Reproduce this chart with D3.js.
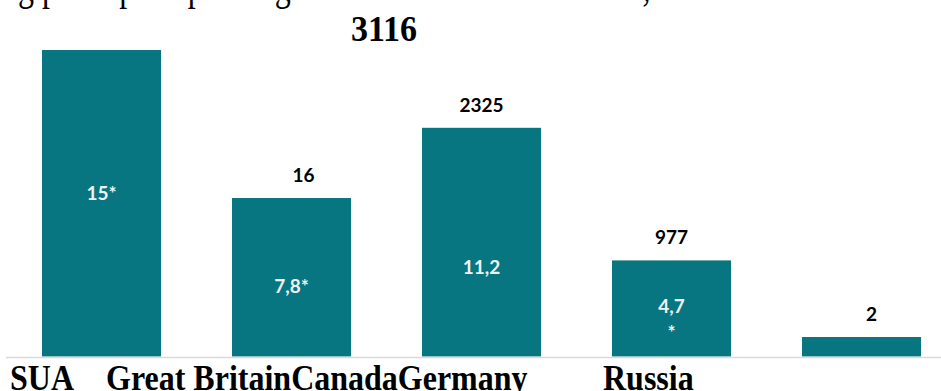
<!DOCTYPE html>
<html>
<head>
<meta charset="utf-8">
<script src="https://cdn.jsdelivr.net/npm/d3@7"></script>
<style>
  html, body { margin: 0; padding: 0; background: #fff; overflow: hidden; }
  svg { display: block; }
</style>
</head>
<body>
<svg id="chart" width="941" height="391"></svg>
<script>
// ---- data ----
const categories = ["SUA", "Great Britain", "Canada", "Germany", "Russia"];
const spending = [3116, 1611, 2325, 977, 198];
const topLabels = ["3116", "16", "2325", "977", "2"];
const innerLabels = [["15*"], ["7,8*"], ["11,2"], ["4,7", "*"], []];
const captionText = "Healthcare spending per capita spending in the considered countries, USD";

// ---- layout / style ----
const W = 941, H = 391;
const baseY = 356.5, topY = 50;
const barColor = "#077680";
const topLabelNudge = [0, 12, 0, 0, 10];

const svg = d3.select("#chart");

const x = d3.scaleBand()
  .domain(categories)
  .range([6.5, 956.5])
  .paddingInner(0.3737)
  .paddingOuter(0.1868);

const y = d3.scaleLinear()
  .domain([0, d3.max(spending)])
  .range([baseY, topY]);

// cut-off caption at the top
svg.append("text")
  .attr("transform", "translate(-228,0) scale(1,1.35)")
  .attr("font-family", "'Liberation Serif', 'Times New Roman', serif")
  .attr("font-size", 32)
  .attr("fill", "#000")
  .text(captionText);

// bars
svg.selectAll("rect.bar")
  .data(categories)
  .join("rect")
  .attr("class", "bar")
  .attr("x", d => x(d))
  .attr("y", (d, i) => y(spending[i]))
  .attr("width", x.bandwidth())
  .attr("height", (d, i) => baseY - y(spending[i]))
  .attr("fill", barColor);

// axis line
svg.append("line")
  .attr("x1", 6).attr("x2", W)
  .attr("y1", baseY + 1).attr("y2", baseY + 1)
  .attr("stroke", "#d9d9d9")
  .attr("stroke-width", 1.5);

// top value labels (first one is the big serif title)
svg.append("text")
  .attr("transform", "translate(384,41) scale(1,1.08)")
  .attr("text-anchor", "middle")
  .attr("font-family", "'Liberation Serif', 'Times New Roman', serif")
  .attr("font-weight", "bold")
  .attr("font-size", 34)
  .attr("fill", "#000")
  .text(topLabels[0]);

svg.selectAll("text.vlab")
  .data(categories.slice(1))
  .join("text")
  .attr("class", "vlab")
  .attr("x", (d, i) => x(d) + x.bandwidth() / 2 + topLabelNudge[i + 1])
  .attr("y", (d, i) => y(spending[i + 1]) - 16)
  .attr("text-anchor", "middle")
  .attr("font-family", "Lato, 'Open Sans', sans-serif")
  .attr("font-weight", "bold")
  .attr("font-size", 19)
  .attr("fill", "#000")
  .text((d, i) => topLabels[i + 1]);

// inner labels
const innerY = [200, 293, 274, 313, 0];
categories.forEach((c, i) => {
  const lines = innerLabels[i];
  if (!lines.length) return;
  const t = svg.append("text")
    .attr("text-anchor", "middle")
    .attr("font-family", "Lato, 'Open Sans', sans-serif")
    .attr("font-weight", "bold")
    .attr("font-size", 19)
    .attr("fill", "#eef3f3");
  lines.forEach((ln, j) => {
    t.append("tspan")
      .attr("x", x(c) + x.bandwidth() / 2)
      .attr("y", innerY[i] + j * 26)
      .text(ln);
  });
});

// category labels (flowing serif line)
const catX = [10, 106, null, null, 603];
const catText = svg.append("text")
  .attr("transform", "translate(0,390) scale(1,1.12)")
  .attr("font-family", "'Liberation Serif', 'Times New Roman', serif")
  .attr("font-weight", "bold")
  .attr("font-size", 32)
  .attr("fill", "#000");
categories.forEach((c, i) => {
  const ts = catText.append("tspan").text(c);
  if (catX[i] !== null) ts.attr("x", catX[i]);
});
</script>
</body>
</html>
